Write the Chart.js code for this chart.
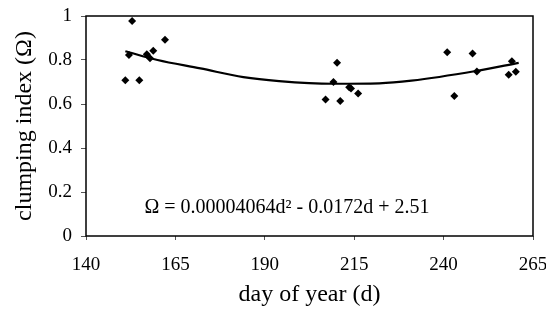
<html>
  <head>
    <script src="https://cdn.jsdelivr.net/npm/chart.js@4.4.1/dist/chart.umd.min.js"></script>
    <style>
      body { margin:0; background:#fff; }
      #wrap { width:546px; height:320px; }
    </style>
  </head>
  <body>
    <div id="wrap"><canvas id="canvas"></canvas></div>
    <script>
      // observed clumping index per day of year
      var obsDay = [151.0, 152.0, 152.9, 154.9, 157.0, 157.9, 158.8, 162.1,
                    207.0, 209.2, 210.2, 211.1, 213.6, 214.1, 216.1,
                    241.0, 243.0, 248.1, 249.3, 258.2, 259.1, 260.2];
      var obsOmega = [0.708, 0.823, 0.977, 0.708, 0.826, 0.808, 0.842, 0.892,
                      0.621, 0.700, 0.788, 0.614, 0.676, 0.671, 0.648,
                      0.835, 0.636, 0.830, 0.748, 0.733, 0.794, 0.747];
      // fitted curve
      var fitDay = [151, 160, 172, 184, 194, 209, 222, 231, 249, 261];
      var fitOmega = [0.840, 0.800, 0.762, 0.722, 0.704, 0.692, 0.694, 0.706, 0.750, 0.787];
      var equation = "\u03A9 = 0.00004064d\u00B2 - 0.0172d + 2.51";

      var serif = "'Liberation Serif', 'DejaVu Serif', serif";

      var framePlugin = {
        id: "frame",
        afterDraw: function(chart){
          var ctx = chart.ctx, a = chart.chartArea;
          ctx.save();
          ctx.strokeStyle = "#000";
          ctx.lineWidth = 1.5;
          ctx.strokeRect(a.left, a.top, a.right - a.left, a.bottom - a.top);
          ctx.fillStyle = "#000";
          ctx.font = "20px " + serif;
          ctx.textAlign = "center";
          ctx.textBaseline = "alphabetic";
          ctx.fillText(equation, 287, 213);
          ctx.restore();
        }
      };

      function noPad(s){
        s.paddingLeft = 0; s.paddingRight = 0;
        s.paddingTop = 0; s.paddingBottom = 0;
      }

      window.onload = function(){
        var ctx = document.getElementById("canvas");
        new Chart(ctx, {
          type: "scatter",
          data: {
            datasets: [{
              label: "observed",
              data: obsDay.map(function(d, i){ return {x: d, y: obsOmega[i]}; }),
              pointStyle: "rectRot",
              pointRadius: 4,
              backgroundColor: "#000",
              borderColor: "#000",
              borderWidth: 0
            }, {
              label: "fit",
              data: fitDay.map(function(d, i){ return {x: d, y: fitOmega[i]}; }),
              showLine: true,
              pointRadius: 0,
              borderColor: "#000",
              borderWidth: 2.2,
              cubicInterpolationMode: "monotone",
              fill: false
            }]
          },
          options: {
            responsive: true,
            maintainAspectRatio: false,
            animation: false,
            layout: { padding: {top: 16, right: 13, left: 0, bottom: 0} },
            plugins: {
              legend: { display: false },
              tooltip: { enabled: false }
            },
            scales: {
              x: {
                type: "linear",
                min: 140, max: 265,
                ticks: { stepSize: 25, color: "#000", padding: 14, font: {family: serif, size: 19} },
                grid: { drawOnChartArea: false, drawTicks: true, tickLength: 4, color: "#555" },
                border: { display: false },
                title: { display: true, text: "day of year (d)", color: "#000",
                         font: {family: serif, size: 24}, padding: {top: 0, bottom: 11} },
                afterFit: function(s){ s.height = 84; noPad(s); }
              },
              y: {
                min: 0, max: 1,
                ticks: { stepSize: 0.2, color: "#000", padding: 9, font: {family: serif, size: 19},
                         callback: function(v){ return String(+v.toFixed(1)); } },
                grid: { drawOnChartArea: false, drawTicks: true, tickLength: 5, color: "#555" },
                border: { display: false },
                title: { display: true, text: "clumping index (\u03A9)", color: "#000",
                         font: {family: serif, size: 24}, padding: {top: 10, bottom: 0} },
                afterFit: function(s){ s.width = 86; noPad(s); }
              }
            }
          },
          plugins: [framePlugin]
        });
      };
    </script>
  </body>
</html>
